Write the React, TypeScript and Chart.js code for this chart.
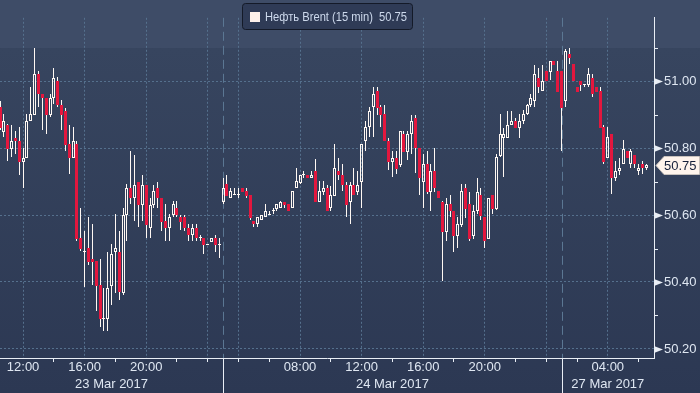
import React, { useEffect, useRef } from 'react';
import { Chart, registerables } from 'chart.js';

Chart.register(...registerables);

// ---- data (15-minute candles, consecutive trading slots) ----
const SERIES_NAME = 'Нефть Brent (15 min)';

const OPEN = [
  50.922, 50.849, 50.870, 50.798, 50.830, 50.822, 50.757, 50.770, 50.881, 50.900,
  51.021, 50.960, 50.949, 50.900, 50.949, 51.000, 50.930, 50.910, 50.811, 50.770,
  50.811, 50.530, 50.490, 50.502, 50.470, 50.462, 50.391, 50.290, 50.290, 50.389,
  50.489, 50.491, 50.368, 50.601, 50.680, 50.650, 50.700, 50.631, 50.691, 50.561,
  50.631, 50.680, 50.652, 50.581, 50.560, 50.601, 50.621, 50.593, 50.593, 50.561,
  50.539, 50.561, 50.530, 50.530, 50.511, 50.520, 50.530, 50.510, 50.640, 50.692,
  50.652, 50.661, 50.661, 50.680, 50.672, 50.661, 50.582, 50.572, 50.584, 50.593,
  50.601, 50.612, 50.619, 50.621, 50.640, 50.633, 50.621, 50.680, 50.697, 50.719,
  50.721, 50.711, 50.730, 50.640, 50.670, 50.680, 50.621, 50.657, 50.731, 50.720,
  50.691, 50.640, 50.691, 50.670, 50.699, 50.820, 50.862, 50.922, 50.969, 50.922,
  50.902, 50.822, 50.758, 50.771, 50.749, 50.843, 50.789, 50.843, 50.891, 50.799,
  50.699, 50.752, 50.670, 50.731, 50.673, 50.640, 50.550, 50.633, 50.612, 50.538,
  50.569, 50.680, 50.633, 50.538, 50.612, 50.661, 50.593, 50.529, 50.661, 50.619,
  50.777, 50.829, 50.829, 50.869, 50.881, 50.860, 50.881, 50.902, 50.929, 50.941,
  51.009, 50.969, 51.030, 51.028, 51.061, 51.030, 51.030, 50.940, 51.080, 51.050,
  50.981, 51.001, 50.989, 50.989, 51.009, 50.981, 50.971, 50.862, 50.770, 50.842,
  50.711, 50.730, 50.751, 50.791, 50.751, 50.779, 50.730, 50.751, 50.740,
];

const HIGH = [
  50.941, 50.902, 50.872, 50.870, 50.850, 50.862, 50.800, 50.902, 50.981, 51.100,
  51.030, 50.960, 50.949, 50.962, 51.040, 51.011, 50.943, 50.921, 50.870, 50.862,
  50.822, 50.621, 50.553, 50.593, 50.572, 50.462, 50.470, 50.382, 50.491, 50.512,
  50.602, 50.553, 50.621, 50.692, 50.790, 50.780, 50.700, 50.721, 50.691, 50.652,
  50.691, 50.700, 50.652, 50.633, 50.604, 50.642, 50.642, 50.601, 50.601, 50.572,
  50.572, 50.572, 50.541, 50.530, 50.512, 50.530, 50.541, 50.530, 50.711, 50.721,
  50.681, 50.680, 50.680, 50.680, 50.680, 50.661, 50.582, 50.593, 50.601, 50.633,
  50.612, 50.621, 50.633, 50.642, 50.640, 50.633, 50.671, 50.740, 50.721, 50.730,
  50.721, 50.730, 50.768, 50.702, 50.702, 50.691, 50.687, 50.811, 50.771, 50.751,
  50.699, 50.699, 50.740, 50.730, 50.811, 50.881, 50.922, 50.981, 50.981, 50.930,
  50.930, 50.831, 50.791, 50.791, 50.850, 50.850, 50.850, 50.900, 50.900, 50.799,
  50.782, 50.791, 50.752, 50.799, 50.673, 50.642, 50.652, 50.661, 50.612, 50.593,
  50.692, 50.692, 50.670, 50.631, 50.711, 50.680, 50.593, 50.652, 50.661, 50.782,
  50.902, 50.860, 50.910, 50.910, 50.891, 50.902, 50.914, 50.931, 50.962, 51.049,
  51.039, 51.049, 51.030, 51.061, 51.061, 51.061, 51.030, 51.095, 51.100, 51.050,
  50.981, 51.001, 50.990, 51.040, 51.021, 50.981, 50.981, 50.870, 50.862, 50.842,
  50.760, 50.770, 50.823, 50.791, 50.798, 50.779, 50.751, 50.760, 50.751,
];

const LOW = [
  50.854, 50.832, 50.760, 50.772, 50.782, 50.721, 50.681, 50.770, 50.881, 50.900,
  50.924, 50.853, 50.843, 50.893, 50.931, 50.922, 50.853, 50.791, 50.723, 50.770,
  50.522, 50.492, 50.385, 50.451, 50.391, 50.312, 50.265, 50.254, 50.254, 50.330,
  50.366, 50.345, 50.361, 50.522, 50.633, 50.582, 50.563, 50.582, 50.531, 50.531,
  50.621, 50.621, 50.553, 50.522, 50.522, 50.593, 50.593, 50.555, 50.553, 50.522,
  50.522, 50.522, 50.522, 50.483, 50.511, 50.520, 50.491, 50.472, 50.633, 50.657,
  50.652, 50.661, 50.652, 50.669, 50.650, 50.584, 50.563, 50.563, 50.584, 50.593,
  50.601, 50.602, 50.613, 50.621, 50.621, 50.612, 50.621, 50.680, 50.692, 50.711,
  50.711, 50.711, 50.640, 50.640, 50.661, 50.612, 50.612, 50.657, 50.706, 50.673,
  50.595, 50.574, 50.659, 50.659, 50.621, 50.791, 50.834, 50.834, 50.900, 50.862,
  50.822, 50.735, 50.714, 50.723, 50.742, 50.789, 50.763, 50.782, 50.726, 50.661,
  50.621, 50.664, 50.612, 50.670, 50.650, 50.404, 50.522, 50.593, 50.491, 50.503,
  50.563, 50.591, 50.522, 50.527, 50.604, 50.584, 50.503, 50.529, 50.602, 50.614,
  50.772, 50.714, 50.829, 50.869, 50.860, 50.831, 50.872, 50.900, 50.924, 50.924,
  50.964, 50.969, 50.999, 51.002, 51.047, 50.968, 50.791, 50.924, 51.050, 50.999,
  50.968, 50.971, 50.981, 50.981, 50.952, 50.968, 50.860, 50.751, 50.770, 50.662,
  50.702, 50.720, 50.751, 50.770, 50.741, 50.741, 50.720, 50.723, 50.735,
];

const CLOSE = [
  50.860, 50.881, 50.798, 50.822, 50.821, 50.757, 50.771, 50.881, 50.902, 51.021,
  50.960, 50.948, 50.900, 50.949, 51.009, 50.929, 50.900, 50.809, 50.770, 50.822,
  50.527, 50.500, 50.492, 50.460, 50.460, 50.389, 50.290, 50.293, 50.382, 50.484,
  50.502, 50.371, 50.601, 50.680, 50.650, 50.691, 50.631, 50.691, 50.570, 50.631,
  50.672, 50.650, 50.579, 50.560, 50.593, 50.633, 50.601, 50.579, 50.560, 50.539,
  50.561, 50.530, 50.531, 50.510, 50.512, 50.530, 50.510, 50.511, 50.682, 50.657,
  50.671, 50.662, 50.662, 50.669, 50.657, 50.591, 50.572, 50.593, 50.601, 50.612,
  50.602, 50.613, 50.633, 50.640, 50.631, 50.612, 50.671, 50.701, 50.721, 50.720,
  50.711, 50.721, 50.640, 50.673, 50.680, 50.612, 50.661, 50.740, 50.720, 50.691,
  50.631, 50.691, 50.659, 50.691, 50.811, 50.862, 50.910, 50.962, 50.919, 50.900,
  50.822, 50.758, 50.771, 50.737, 50.850, 50.789, 50.843, 50.881, 50.799, 50.711,
  50.752, 50.670, 50.731, 50.680, 50.650, 50.550, 50.633, 50.612, 50.538, 50.572,
  50.673, 50.619, 50.527, 50.612, 50.670, 50.598, 50.522, 50.652, 50.619, 50.772,
  50.841, 50.841, 50.869, 50.881, 50.860, 50.881, 50.902, 50.929, 50.949, 51.020,
  50.981, 50.999, 50.999, 51.061, 51.047, 50.968, 50.921, 51.089, 51.069, 50.999,
  50.968, 50.989, 50.990, 51.021, 50.960, 50.968, 50.860, 50.758, 50.832, 50.711,
  50.732, 50.741, 50.798, 50.770, 50.791, 50.751, 50.740, 50.740, 50.750,
];

// x axis: tick positions are slot indices, every 2 hours
const TICK_SLOTS = [6, 14, 22, 30, 38, 46, 54, 62, 70, 78, 86, 94, 102, 110, 118, 126, 134, 142, 150, 158, 166];
const TICK_LABELS = ['12:00', '', '16:00', '', '20:00', '', '', '', '', '08:00', '', '12:00', '', '16:00', '', '20:00', '', '', '', '04:00', ''];
const GRID_SLOTS = [6, 22, 38, 54, 62, 78, 94, 110, 126, 142, 158];
const DAY_BREAKS = [58, 146];
const DAY_LABELS = ['23 Mar 2017', '24 Mar 2017', '27 Mar 2017'];
const X_MIN = 0;
const X_MAX = 170;

// y axis
const Y_TICKS = [50.2, 50.3, 50.4, 50.5, 50.6, 50.7, 50.8, 50.9, 51.0, 51.1];
const Y_MIN = 50.173;
const Y_MAX = 51.189;

// ---- styles ----
const RED = '#e3173e';
const WHITE = '#fff8f3';
const AXIS = '#e9eef5';
const GRID = '#55708d';
const SEP = '#5b7793';
const TEXT = '#dfe7f2';
const FONT = '"Liberation Sans", Arial, sans-serif';

export default function App() {
  const ref = useRef<HTMLCanvasElement>(null);

  useEffect(() => {
    document.body.style.margin = '0';
    const canvas = ref.current;
    if (!canvas) return;

    const idx = OPEN.map((_, i) => i);
    const isUp = idx.map((i) => CLOSE[i] >= OPEN[i]);
    const bodies = idx.map((i) => ({ x: i, y: [OPEN[i], CLOSE[i]] }));
    const upperW = idx.map((i) => ({ x: i, y: [Math.max(OPEN[i], CLOSE[i]), HIGH[i]] }));
    const lowerW = idx.map((i) => ({ x: i, y: [LOW[i], Math.min(OPEN[i], CLOSE[i])] }));
    const last = CLOSE[CLOSE.length - 1];

    const bgPlugin = {
      id: 'bg',
      beforeDraw(chart: any) {
        const { ctx, width, height } = chart;
        ctx.save();
        const g = ctx.createLinearGradient(0, 48, 0, height);
        g.addColorStop(0, '#37455f');
        g.addColorStop(1, '#2c3853');
        ctx.fillStyle = g;
        ctx.fillRect(0, 0, width, height);
        ctx.fillStyle = '#3e4c67';
        ctx.fillRect(0, 0, width, 48);
        ctx.restore();
      },
    };

    const snapPlugin = {
      id: 'snap',
      afterDatasetsUpdate(chart: any) {
        chart.data.datasets.forEach((ds: any, d: number) => {
          const meta = chart.getDatasetMeta(d);
          meta.data.forEach((el: any) => {
            el.x = Math.floor(el.x) + 0.5;
            el.y = Math.round(el.y);
            el.base = Math.round(el.base);
            if (ds.isBody && Math.abs(el.base - el.y) < 1) el.base = el.y + 1;
          });
        });
      },
    };

    const sepPlugin = {
      id: 'sep',
      beforeDatasetsDraw(chart: any) {
        const { ctx, chartArea, scales } = chart;
        ctx.save();
        ctx.strokeStyle = SEP;
        ctx.lineWidth = 1;
        ctx.setLineDash([9, 5]);
        DAY_BREAKS.forEach((s) => {
          const x = Math.round(scales.x.getPixelForValue(s)) + 0.5;
          ctx.beginPath();
          ctx.moveTo(x, chartArea.top);
          ctx.lineTo(x, chartArea.bottom);
          ctx.stroke();
        });
        ctx.restore();
      },
    };

    const overlayPlugin = {
      id: 'overlay',
      afterDraw(chart: any) {
        const { ctx, chartArea, scales, height } = chart;
        const xs = scales.x;
        const ys = scales.y;
        const r = chartArea.right;
        ctx.save();

        // day separators under the axis + day labels
        ctx.strokeStyle = AXIS;
        ctx.lineWidth = 1;
        DAY_BREAKS.forEach((s) => {
          const x = Math.round(xs.getPixelForValue(s)) + 0.5;
          ctx.beginPath();
          ctx.moveTo(x, chartArea.bottom);
          ctx.lineTo(x, height);
          ctx.stroke();
        });
        const bounds = [X_MIN, ...DAY_BREAKS, X_MAX];
        ctx.fillStyle = TEXT;
        ctx.font = '13px ' + FONT;
        ctx.textAlign = 'center';
        ctx.textBaseline = 'middle';
        DAY_LABELS.forEach((lab, i) => {
          const x = xs.getPixelForValue((bounds[i] + bounds[i + 1]) / 2);
          ctx.fillText(lab, x, chartArea.bottom + 26);
        });

        // y axis markers
        Y_TICKS.forEach((v) => {
          const y = Math.round(ys.getPixelForValue(v)) + 0.5;
          const major = Math.round(v * 10) % 2 === 0;
          ctx.fillStyle = AXIS;
          ctx.strokeStyle = AXIS;
          if (major) {
            ctx.beginPath();
            ctx.moveTo(r, y - 3.5);
            ctx.lineTo(r + 9, y);
            ctx.lineTo(r, y + 3.5);
            ctx.closePath();
            ctx.fill();
          } else {
            ctx.beginPath();
            ctx.moveTo(r, y);
            ctx.lineTo(r + 4, y);
            ctx.stroke();
          }
        });

        // last price label
        const py = Math.round(ys.getPixelForValue(last));
        ctx.beginPath();
        ctx.moveTo(r + 2, py + 0.5);
        ctx.lineTo(r + 10, py - 8.5);
        ctx.lineTo(r + 45.5, py - 8.5);
        ctx.lineTo(r + 45.5, py + 9.5);
        ctx.lineTo(r + 10, py + 9.5);
        ctx.closePath();
        ctx.fillStyle = '#fff4ec';
        ctx.fill();
        ctx.strokeStyle = '#c9c2bd';
        ctx.stroke();
        ctx.fillStyle = '#16203a';
        ctx.font = '13px ' + FONT;
        ctx.textAlign = 'left';
        ctx.textBaseline = 'middle';
        ctx.fillText(last.toFixed(2), r + 10, py + 1, 33);

        // legend
        ctx.beginPath();
        ctx.roundRect(242.5, 3.5, 170, 26, 3);
        ctx.fillStyle = '#2f3b56';
        ctx.fill();
        ctx.strokeStyle = '#141a28';
        ctx.stroke();
        ctx.fillStyle = '#fdf0ea';
        ctx.fillRect(250, 12, 10, 10);
        ctx.fillStyle = '#cdd9ec';
        ctx.font = '12px ' + FONT;
        ctx.textAlign = 'left';
        ctx.textBaseline = 'alphabetic';
        ctx.fillText(SERIES_NAME, 265, 21, 108);
        ctx.fillText(last.toFixed(2), 379, 21, 28);

        ctx.restore();
      },
    };

    const chart = new Chart(canvas, {
      type: 'bar',
      data: {
        datasets: [
          {
            isBody: true,
            data: bodies,
            barThickness: 3,
            grouped: false,
            inflateAmount: 0,
            borderSkipped: false,
            minBarLength: 1,
            backgroundColor: isUp.map((u) => (u ? 'rgba(0,0,0,0)' : RED)),
            borderColor: isUp.map((u) => (u ? WHITE : RED)),
            borderWidth: isUp.map((u) => (u ? 1 : 0)),
          } as any,
          {
            data: upperW,
            barThickness: 1,
            grouped: false,
            inflateAmount: 0,
            borderSkipped: false,
            backgroundColor: WHITE,
            borderWidth: 0,
          },
          {
            data: lowerW,
            barThickness: 1,
            grouped: false,
            inflateAmount: 0,
            borderSkipped: false,
            backgroundColor: WHITE,
            borderWidth: 0,
          },
        ],
      },
      options: {
        responsive: false,
        animation: false,
        devicePixelRatio: 1,
        events: [],
        layout: { padding: 0 },
        plugins: { legend: { display: false }, tooltip: { enabled: false } },
        scales: {
          x: {
            type: 'linear',
            offset: false,
            min: X_MIN,
            max: X_MAX,
            afterBuildTicks: (s: any) => {
              s.ticks = TICK_SLOTS.map((v) => ({ value: v }));
            },
            afterFit: (s: any) => {
              s.height = 35;
            },
            ticks: {
              autoSkip: false,
              maxRotation: 0,
              padding: -2,
              color: TEXT,
              font: { family: FONT, size: 13 },
              callback: (v: any) => {
                const i = TICK_SLOTS.indexOf(Number(v));
                return i >= 0 ? TICK_LABELS[i] : '';
              },
            },
            grid: {
              offset: false,
              drawOnChartArea: true,
              drawTicks: true,
              tickLength: 4,
              lineWidth: 1,
              color: (c: any) => (c.tick && GRID_SLOTS.includes(c.tick.value) ? GRID : 'rgba(0,0,0,0)'),
              tickColor: (c: any) => {
                const i = c.tick ? TICK_SLOTS.indexOf(c.tick.value) : -1;
                return i >= 0 && TICK_LABELS[i] === '' ? AXIS : 'rgba(0,0,0,0)';
              },
            },
            border: { display: true, color: AXIS, width: 1, dash: [2, 2] },
          },
          y: {
            type: 'linear',
            position: 'right',
            min: Y_MIN,
            max: Y_MAX,
            afterBuildTicks: (s: any) => {
              s.ticks = Y_TICKS.map((v) => ({ value: v }));
            },
            afterFit: (s: any) => {
              s.width = 46;
            },
            ticks: {
              autoSkip: false,
              padding: 10,
              color: TEXT,
              font: { family: FONT, size: 13 },
              callback: (v: any) => (Math.round(Number(v) * 10) % 2 === 0 ? Number(v).toFixed(2) : ''),
            },
            grid: {
              drawTicks: false,
              lineWidth: 1,
              color: (c: any) =>
                c.tick && Math.round(c.tick.value * 10) % 2 === 0 ? GRID : 'rgba(0,0,0,0)',
            },
            border: { display: true, color: AXIS, width: 1, dash: [2, 2] },
          },
        },
      } as any,
      plugins: [bgPlugin, snapPlugin, sepPlugin, overlayPlugin],
    });

    return () => chart.destroy();
  }, []);

  return (
    <div style={{ width: 700, height: 393 }}>
      <canvas ref={ref} width={700} height={393} style={{ display: 'block' }} />
    </div>
  );
}
